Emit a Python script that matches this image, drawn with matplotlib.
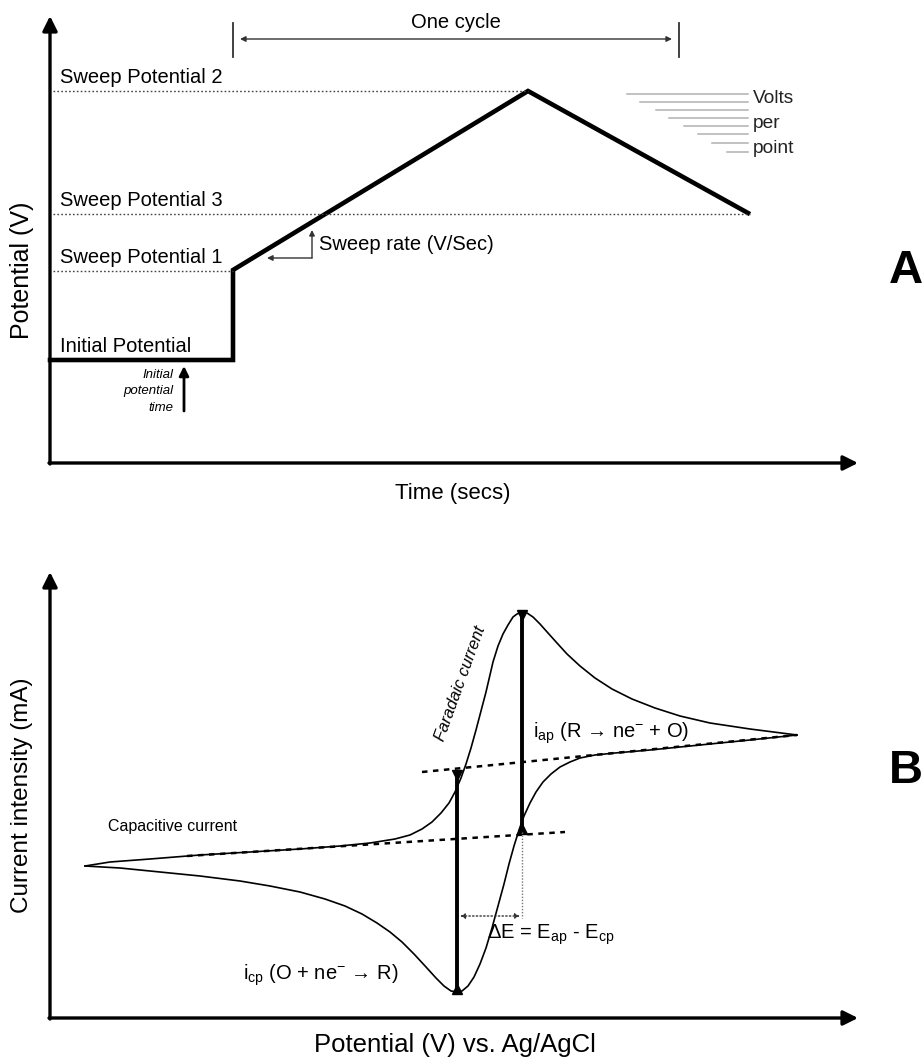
import matplotlib.pyplot as plt

plt.rcParams['font.family'] = ['Liberation Sans', 'DejaVu Sans']
plt.rcParams['mathtext.fontset'] = 'custom'
plt.rcParams['mathtext.rm'] = 'Liberation Sans'
plt.rcParams['mathtext.it'] = 'Liberation Sans:italic'

# ---- panel A : potential program (schematic units, origin at axes corner)
wave_t = [0, 183, 183, 478, 698]
wave_E = [103, 103, 193, 372, 250]
level_names = ['Initial Potential', 'Sweep Potential 1', 'Sweep Potential 2', 'Sweep Potential 3']
level_E = [103, 192, 372, 249]
level_end = [183, 183, 478, 700]
cycle_t = [183, 629]
step_left = [577, 590, 606, 619, 634, 648, 662, 677]
step_E = [369, 361, 353, 345, 337, 329, 320, 311]
step_right = 698
vpp_words = ['Volts', 'per', 'point']
vpp_E = [360, 335, 310]
ipt_words = ['Initial', 'potential', 'time']
ipt_E = [88, 72, 55]

# ---- panel B : cyclic voltammogram (schematic units)
fwd_x = [35, 60, 100, 150, 200, 250, 290, 320, 345, 360, 372, 382, 391, 399, 405, 411,
         416, 421, 426, 431, 436, 443, 448, 453, 458, 463, 467, 472, 477, 483, 490, 498,
         507, 517, 530, 545, 562, 582, 605, 630, 660, 700, 747]
fwd_y = [152, 156, 159, 163, 166, 169, 172, 175, 179, 183, 189, 196, 205, 215, 226, 240,
         254, 270, 288, 307, 326, 356, 372, 384, 393, 401, 404, 406, 405, 401, 394, 385,
         375, 364, 352, 340, 329, 319, 310, 302, 295, 289, 283]
rev_x = [747, 700, 650, 600, 565, 545, 530, 520, 510, 501, 493, 486, 480, 474, 469, 464,
         459, 454, 448, 442, 436, 430, 424, 418, 412, 407, 401, 394, 386, 376, 364, 352,
         340, 327, 312, 295, 275, 250, 220, 190, 150, 110, 70, 35]
rev_y = [283, 278, 273, 268, 265, 263, 260, 256, 251, 244, 236, 226, 215, 202, 188, 172,
         154, 134, 112, 90, 70, 54, 41, 32, 27, 26, 27, 32, 40, 51, 64, 76,
         86, 95, 104, 112, 119, 126, 132, 137, 142, 146, 150, 152]
base_lo_x = [137, 515]
base_lo_y = [162, 186]
base_hi_x = [372, 747]
base_hi_y = [246, 283]
icp_x, icp_y = 407, [246, 26]
iap_x, iap_y = 472, [406, 186]
dE_y = 102

fig = plt.figure(figsize=(9.24, 10.59), dpi=100)
axA = fig.add_axes([50/924, 596/1059, 808/924, 447/1059])
axB = fig.add_axes([50/924, 41/1059, 808/924, 446/1059])
for ax, top in [(axA, 447), (axB, 446)]:
    ax.set_xlim(0, 808)
    ax.set_ylim(0, top)
    ax.axis('off')
    ax.annotate('', xy=(808, 0), xytext=(-1, 0), annotation_clip=False,
                arrowprops=dict(arrowstyle='-|>', lw=2.4, color='black', mutation_scale=22,
                                shrinkA=0, shrinkB=0))
    ax.annotate('', xy=(0, top), xytext=(0, -1), annotation_clip=False,
                arrowprops=dict(arrowstyle='-|>', lw=2.4, color='black', mutation_scale=22,
                                shrinkA=0, shrinkB=0))

# ---------------- A
axA.plot(wave_t, wave_E, color='black', lw=3.3, solid_joinstyle='miter', clip_on=False)
for name, E, end in zip(level_names, level_E, level_end):
    if name != 'Initial Potential':
        axA.plot([3, end], [E, E], color='#444444', lw=1, ls=(0, (1.2, 1.6)), clip_on=False)
    axA.text(10, E + 8, name, fontsize=14.5, va='baseline', ha='left')

for t in cycle_t:
    axA.plot([t, t], [406, 440], color='#333333', lw=1.3)
axA.annotate('', xy=(cycle_t[1] - 7, 424), xytext=(cycle_t[0] + 7, 424),
             arrowprops=dict(arrowstyle='<|-|>', lw=1, color='#333333', mutation_scale=8,
                             shrinkA=0, shrinkB=0))
axA.text(sum(cycle_t) / 2, 441, 'One cycle', fontsize=14.5, ha='center', va='center')

for l, E in zip(step_left, step_E):
    axA.plot([l, step_right], [E, E], color='#b0b0b0', lw=1.1)
for w, E in zip(vpp_words, vpp_E):
    axA.text(703, E, w, fontsize=13.8, va='baseline', ha='left', color='#222222')

# sweep rate elbow
axA.annotate('', xy=(217, 205), xytext=(262, 205),
             arrowprops=dict(arrowstyle='-|>', lw=1, color='#333333', mutation_scale=8,
                             shrinkA=0, shrinkB=0))
axA.annotate('', xy=(262, 233), xytext=(262, 205),
             arrowprops=dict(arrowstyle='-|>', lw=1, color='#333333', mutation_scale=8,
                             shrinkA=0, shrinkB=0))
axA.text(269, 218, 'Sweep rate (V/Sec)', fontsize=14.5, va='center', ha='left')

# initial potential time
axA.annotate('', xy=(134, 97), xytext=(134, 52),
             arrowprops=dict(arrowstyle='-|>', lw=2, color='black', mutation_scale=14,
                             shrinkA=0, shrinkB=0))
for w, E in zip(ipt_words, ipt_E):
    axA.text(123, E, w, fontsize=9.5, style='italic', ha='right', va='center')

axA.text(403, -30, 'Time (secs)', fontsize=16, ha='center', va='center')
axA.text(-28, 193, 'Potential (V)', fontsize=18, ha='center', va='center', rotation=90)

# ---------------- B
axB.plot(fwd_x, fwd_y, color='black', lw=1.2, solid_joinstyle='round', clip_on=False)
axB.plot(rev_x, rev_y, color='black', lw=1.2, solid_joinstyle='round', clip_on=False)
axB.plot(base_lo_x, base_lo_y, color='black', lw=1.8, ls=(0, (2.2, 2.2)))
axB.plot(base_hi_x, base_hi_y, color='black', lw=1.8, ls=(0, (2.2, 2.2)))
for x, ys in [(icp_x, icp_y), (iap_x, iap_y)]:
    axB.plot([x, x], ys, color='black', lw=2.8)
    axB.plot([x], [ys[0] - 3], marker='v', color='black', ms=7)
    axB.plot([x], [ys[1] + 3], marker='^', color='black', ms=7)

axB.plot([iap_x, iap_x], [iap_y[1], dE_y - 2], color='#777777', lw=1, ls=(0, (1, 1.2)))
axB.annotate('', xy=(iap_x - 2, dE_y), xytext=(icp_x + 3, dE_y),
             arrowprops=dict(arrowstyle='<|-|>', lw=1, ls=':', color='#333333',
                             mutation_scale=7, shrinkA=0, shrinkB=0))

axB.text(58, 191, 'Capacitive current', fontsize=11.5, va='center', ha='left')
axB.text(410, 334, 'Faradaic current', fontsize=12, style='italic', rotation=70,
         ha='center', va='center')
axB.text(483, 285, r'i$_{\mathrm{ap}}$ (R → ne$^{-}$ + O)', fontsize=14.5, va='center', ha='left')
axB.text(437, 83, r'ΔE = E$_{\mathrm{ap}}$ - E$_{\mathrm{cp}}$', fontsize=14.5, va='center', ha='left')
axB.text(193, 43, r'i$_{\mathrm{cp}}$ (O + ne$^{-}$ → R)', fontsize=14.5, va='center', ha='left')

axB.text(405, -27, 'Potential (V) vs. Ag/AgCl', fontsize=18.5, ha='center', va='center')
axB.text(-28, 223, 'Current intensity (mA)', fontsize=17.5, ha='center', va='center', rotation=90)

fig.text(906/924, 1 - 271/1059, 'A', fontsize=34, fontweight='bold', ha='center', va='center')
fig.text(906/924, 1 - 771/1059, 'B', fontsize=34, fontweight='bold', ha='center', va='center')

fig.savefig('out.png', dpi=100)
